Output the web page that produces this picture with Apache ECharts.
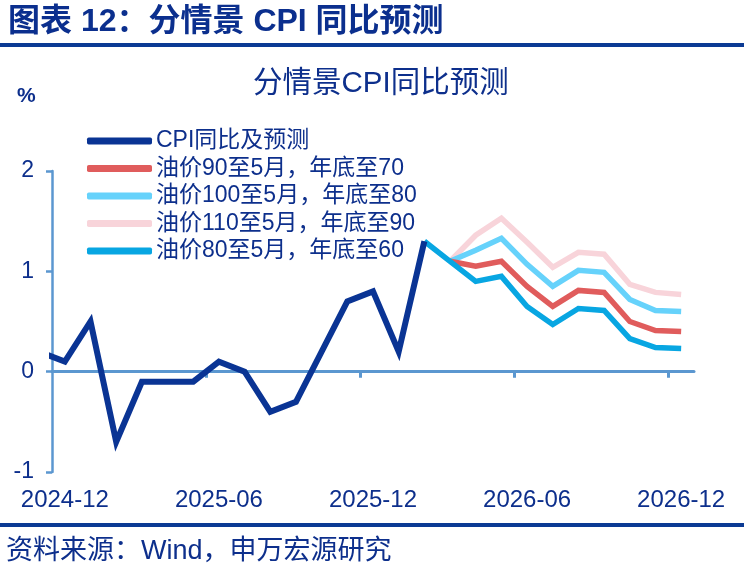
<!DOCTYPE html>
<html>
<head>
<meta charset="utf-8">
<script src="https://cdn.jsdelivr.net/npm/echarts@6/dist/echarts.min.js"></script>
<style>
html,body{margin:0;padding:0;background:#fff;}
#c{width:744px;height:572px;}
</style>
</head>
<body>
<div id="c"></div>
<script>
// Months (index 0 = 2024-11)
const months = ['2024-11','2024-12','2025-01','2025-02','2025-03','2025-04','2025-05','2025-06','2025-07','2025-08','2025-09','2025-10','2025-11','2025-12','2026-01','2026-02','2026-03','2026-04','2026-05','2026-06','2026-07','2026-08','2026-09','2026-10','2026-11','2026-12'];
const tickLabels = ['2024-12','2025-06','2025-12','2026-06','2026-12'];
const yTicks = [-1, 0, 1, 2];

const seriesNames = ['CPI同比及预测','油价90至5月，年底至70','油价100至5月，年底至80','油价110至5月，年底至90','油价80至5月，年底至60'];

// CPI actual, 2024-11 .. 2026-02
const cpiActual = [0.2,0.1,0.5,-0.7,-0.1,-0.1,-0.1,0.1,0.0,-0.4,-0.3,0.2,0.7,0.8,0.2,1.3];
// Scenario 80/60: 2026-02 .. 2026-12
const oil80 = [1.3,1.1,0.9,0.95,0.65,0.47,0.63,0.61,0.33,0.24,0.23];
// Other scenarios: 2026-03 .. 2026-12
const oil90 = [1.1,1.05,1.10,0.85,0.65,0.81,0.79,0.50,0.41,0.40];
const oil100 = [1.1,1.21,1.33,1.07,0.85,1.01,0.99,0.72,0.61,0.60];
const oil110 = [1.1,1.36,1.53,1.29,1.04,1.19,1.17,0.87,0.79,0.77];

const colors = ['#0a3494','#e05c5c','#66d2fb','#f8d4da','#08a6e2'];

function toPairs(vals, start){ return vals.map((v,i)=>[start+i, v]); }
const idx = m => months.indexOf(m);

const FONT = '"Liberation Sans","Noto Sans CJK SC",sans-serif';
const NAVY = '#0d2f8c';
const AXIS = '#5b97d0';

const chart = echarts.init(document.getElementById('c'));
const mk = (name, data, color, z, w) => ({
  name, type:'line', data, xAxisIndex:0, yAxisIndex:0,
  showSymbol:false, symbol:'none', clip:true, z,
  lineStyle:{color, width:w, cap:'butt', join:'miter'},
  itemStyle:{color}
});
const option = {
  backgroundColor:'#fff',
  animation:false,
  textStyle:{fontFamily:FONT},
  graphic:[
    {type:'text', left:8, top:6, style:{text:'图表 12：分情景 CPI 同比预测', fill:'#0b2f8e', font:'bold 32px '+FONT}},
    {type:'rect', left:0, top:43, shape:{width:744, height:4}, style:{fill:'#0b3a94'}},
    {type:'text', left:253, top:69, style:{text:'分情景CPI同比预测', fill:NAVY, font:'29.5px '+FONT}},
    {type:'text', left:17, top:86, style:{text:'%', fill:NAVY, font:'bold 21px '+FONT}},
    {type:'rect', left:0, top:523, shape:{width:744, height:4}, style:{fill:'#0b3a94'}},
    {type:'text', left:6, top:538, style:{text:'资料来源：Wind，申万宏源研究', fill:NAVY, font:'27px '+FONT}}
  ],
  legend:{
    orient:'vertical', left:82, top:124, itemWidth:65, itemHeight:7, itemGap:3.5,
    icon:'roundRect',
    data:seriesNames,
    textStyle:{color:NAVY, fontSize:23, fontFamily:FONT, lineHeight:24, padding:[0,0,0,-1]}
  },
  grid:{left:52, right:50, top:171, bottom:100, containLabel:false},
  xAxis:[
    {type:'value', min:0.5, max:25.5, position:'bottom',
     axisLine:{onZero:true, lineStyle:{color:AXIS, width:3}},
     axisTick:{show:true, customValues:[6.5,12.5,18.5,24.5], length:6, inside:false, lineStyle:{color:AXIS, width:3}},
     axisLabel:{show:false}, splitLine:{show:false}},
    {type:'value', min:0.5, max:25.5, position:'bottom',
     axisLine:{show:false, onZero:false}, axisTick:{show:false}, splitLine:{show:false},
     axisLabel:{show:true, customValues:[1,7,13,19,25], margin:16, color:NAVY, fontSize:24, fontFamily:FONT,
       formatter:v=>months[Math.round(v)]}}
  ],
  yAxis:[{type:'value', min:-1, max:2, interval:1,
    axisLine:{show:true, lineStyle:{color:AXIS, width:2.5}},
    axisTick:{show:true, length:6, lineStyle:{color:AXIS, width:2.5}},
    axisLabel:{color:NAVY, fontSize:23, margin:18, fontFamily:FONT},
    splitLine:{show:false}}],
  series:[
    mk(seriesNames[0], toPairs(cpiActual,0), colors[0], 10, 6),
    mk(seriesNames[1], toPairs(oil90, idx('2026-03')), colors[1], 6, 5.5),
    mk(seriesNames[2], toPairs(oil100, idx('2026-03')), colors[2], 5, 5.5),
    mk(seriesNames[3], toPairs(oil110, idx('2026-03')), colors[3], 4, 5.5),
    mk(seriesNames[4], toPairs(oil80, idx('2026-02')), colors[4], 8, 5.5)
  ]
};
chart.setOption(option);
</script>
</body>
</html>
